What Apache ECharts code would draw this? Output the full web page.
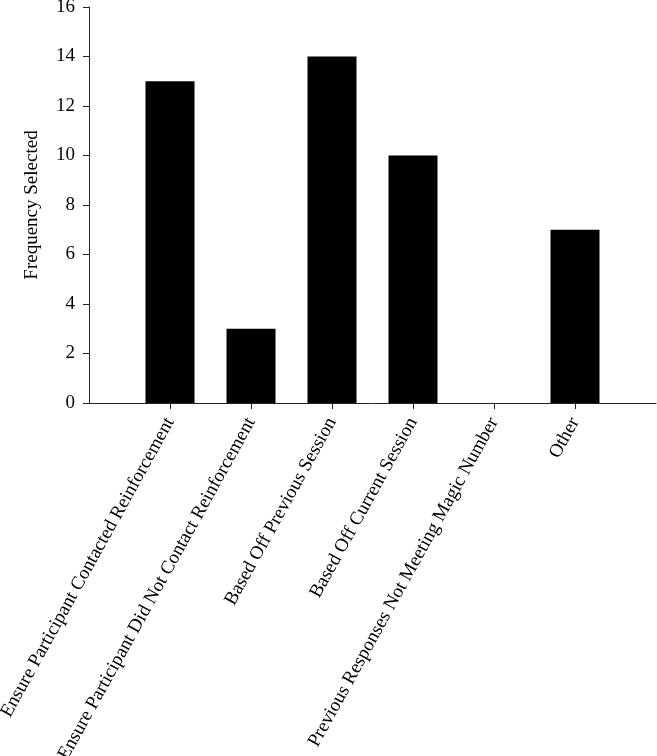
<!DOCTYPE html>
<html>
<head>
<meta charset="utf-8">
<script src="https://cdn.jsdelivr.net/npm/echarts@6/dist/echarts.min.js"></script>
<style>html,body{margin:0;padding:0;background:#fff;}#c{width:657px;height:756px;}</style>
</head>
<body>
<div id="c"></div>
<script>
var categories = ["Ensure Participant Contacted Reinforcement", "Ensure Participant Did Not Contact Reinforcement", "Based Off Previous Session", "Based Off Current Session", "Previous Responses Not Meeting Magic Number", "Other"];
var frequency = [13, 3, 14, 10, 0, 7];
var yTicks = [0, 2, 4, 6, 8, 10, 12, 14, 16];

var axisCats = [''].concat(categories).concat(['']);
var barData = [null].concat(frequency).concat([null]);
var font = 'Liberation Serif';
var chart = echarts.init(document.getElementById('c'), null, {renderer: 'canvas'});
chart.setOption({
  animation: false,
  grid: {left: 89, right: 1, top: 7, bottom: 353, containLabel: false, outerBoundsMode: 'none'},
  xAxis: {
    type: 'category',
    data: axisCats,
    boundaryGap: false,
    axisLine: {lineStyle: {color: '#222', width: 1}},
    axisTick: {show: true, length: 6, inside: false, lineStyle: {color: '#222'},
      interval: function (i) { return i > 0 && i < axisCats.length - 1; }},
    axisLabel: {interval: 0, rotate: 61, margin: 16, color: '#000', fontFamily: font, fontSize: 19},
    splitLine: {show: false}
  },
  yAxis: {
    type: 'value',
    min: yTicks[0], max: yTicks[yTicks.length - 1], interval: 2,
    name: 'Frequency Selected',
    nameLocation: 'middle',
    nameGap: 47,
    nameTextStyle: {color: '#000', fontFamily: font, fontSize: 19},
    axisLine: {show: true, lineStyle: {color: '#222', width: 1}},
    axisTick: {show: true, length: 6, lineStyle: {color: '#222'}},
    axisLabel: {margin: 14, color: '#000', fontFamily: font, fontSize: 19},
    splitLine: {show: false}
  },
  series: [{
    type: 'bar',
    data: barData,
    barWidth: 49,
    itemStyle: {color: '#000'}
  }]
});
</script>
</body>
</html>
